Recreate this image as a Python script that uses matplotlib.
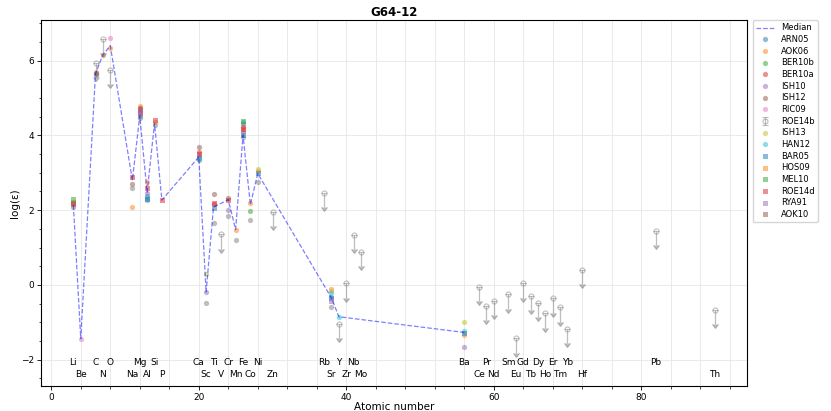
import matplotlib
matplotlib.use('Agg')
import matplotlib.pyplot as plt
from matplotlib.ticker import MultipleLocator

# element labels along the bottom
ELEMENTS = ['Li', 'Be', 'C', 'N', 'O', 'Na', 'Mg', 'Al', 'Si', 'P', 'Ca', 'Sc', 'Ti', 'V',
            'Cr', 'Mn', 'Fe', 'Co', 'Ni', 'Zn', 'Rb', 'Sr', 'Y', 'Zr', 'Nb', 'Mo', 'Ba',
            'Ce', 'Pr', 'Nd', 'Sm', 'Eu', 'Gd', 'Tb', 'Dy', 'Ho', 'Er', 'Tm', 'Yb', 'Hf',
            'Pb', 'Th']
ELEMENT_Z = [3, 4, 6, 7, 8, 11, 12, 13, 14, 15, 20, 21, 22, 23, 24, 25, 26, 27, 28, 30,
             37, 38, 39, 40, 41, 42, 56, 58, 59, 60, 62, 63, 64, 65, 66, 67, 68, 69, 70,
             72, 82, 90]

# median abundance per element
median_z = [3, 4, 6, 7, 8, 11, 12, 13, 14, 15, 20, 21, 22, 24, 25, 26, 27, 28, 38, 39, 56]
median_val = [2.13, -1.44, 5.65, 6.15, 6.40, 2.80, 4.52, 2.48, 4.32, 2.27, 3.42, -0.19,
              2.08, 2.28, 1.48, 4.00, 2.15, 2.98, -0.35, -0.85, -1.27]

# (atomic numbers, log eps) per literature source
arn05 = ([6, 12, 13, 20], [5.65, 4.52, 2.38, 3.40])
aok06 = ([6, 7, 8, 11, 12, 13, 14, 25, 26, 27, 28, 38, 56],
         [5.70, 6.15, 6.33, 2.09, 4.78, 2.74, 4.35, 1.48, 4.13, 2.18, 3.05, -0.11, -1.33])
ber10b = ([27], [1.97])
ber10a = ([12, 20, 22, 26], [4.72, 3.55, 2.16, 4.22])
ish10 = ([12, 13, 20, 21, 24, 26, 38, 56], [4.65, 2.45, 3.45, -0.19, 2.00, 4.08, -0.31, -1.67])
ish12 = ([6, 11, 12, 20, 22, 24, 26], [5.67, 2.71, 4.70, 3.69, 2.43, 2.33, 4.30])
ric09 = ([4, 8], [-1.44, 6.60])
roe14b = ([3, 6, 11, 12, 13, 14, 20, 21, 22, 24, 25, 26, 27, 28, 38],
          [2.08, 5.60, 2.58, 4.46, 2.26, 4.28, 3.33, -0.49, 1.66, 1.84, 1.20, 3.95, 1.73,
           2.76, -0.60])
roe14b_lim = ([6, 7, 8, 23, 30, 37, 39, 40, 41, 42, 58, 59, 60, 62, 63, 64, 65, 66, 67, 68,
               69, 70, 72, 82, 90],
              [5.93, 6.58, 5.75, 1.35, 1.96, 2.46, -1.05, 0.04, 1.33, 0.89, -0.06, -0.56,
               -0.42, -0.25, -1.43, 0.04, -0.30, -0.47, -0.76, -0.36, -0.60, -1.18, 0.40,
               1.45, -0.67])
ish13 = ([21, 28, 38, 56], [0.29, 3.11, -0.17, -1.00])
han12 = ([13, 20, 26, 38, 39, 56], [2.33, 3.37, 4.35, -0.22, -0.85, -1.22])
bar05 = ([13, 22, 26, 28, 38, 56], [2.30, 2.07, 4.02, 2.98, -0.36, -1.28])
hos09 = ([3], [2.21])
mel10 = ([3, 26], [2.30, 4.37])
roe14d = ([3, 11, 12, 13, 14, 15, 20, 22, 24, 26],
          [2.16, 2.89, 4.60, 2.58, 4.40, 2.27, 3.51, 2.20, 2.28, 4.18])
rya91 = ([12, 38], [4.62, -0.42])
aok10 = ([3], [2.18])

circles = [('ARN05', arn05, 'tab:blue'), ('AOK06', aok06, 'tab:orange'),
           ('BER10b', ber10b, 'tab:green'), ('BER10a', ber10a, 'tab:red'),
           ('ISH10', ish10, 'tab:purple'), ('ISH12', ish12, 'tab:brown'),
           ('RIC09', ric09, 'tab:pink')]
circles2 = [('ISH13', ish13, 'tab:olive'), ('HAN12', han12, 'tab:cyan')]
squares = [('BAR05', bar05, 'tab:blue'), ('HOS09', hos09, 'tab:orange'),
           ('MEL10', mel10, 'tab:green'), ('ROE14d', roe14d, 'tab:red'),
           ('RYA91', rya91, 'tab:purple'), ('AOK10', aok10, 'tab:brown')]

plt.rcParams['font.size'] = 6.5
fig = plt.figure(figsize=(8.31, 4.11), dpi=100)
ax = fig.add_axes([0.0497, 0.061, 0.8493, 0.890])

handles = []
h, = ax.plot(median_z, median_val, '--', color='b', alpha=0.5, lw=0.9, label='Median', zorder=5)
handles.append(h)

for name, (z, v), c in circles:
    h, = ax.plot(z, v, 'o', color=c, alpha=0.5, ms=3.8, mew=0, label=name)
    handles.append(h)

ax.plot(roe14b[0], roe14b[1], 'o', color='tab:gray', alpha=0.5, ms=3.8, mew=0)
h = ax.errorbar(roe14b_lim[0], roe14b_lim[1], yerr=0.38, uplims=True, fmt='o', color='tab:gray',
                mfc='none', ms=3.6, mew=0.8, elinewidth=0.9, capsize=2, alpha=0.5,
                label='ROE14b')
handles.append(h)

for name, (z, v), c in circles2:
    h, = ax.plot(z, v, 'o', color=c, alpha=0.5, ms=3.8, mew=0, label=name)
    handles.append(h)
for name, (z, v), c in squares:
    h, = ax.plot(z, v, 's', color=c, alpha=0.5, ms=3.6, mew=0, label=name)
    handles.append(h)

ax.set_ylim(-2.70, 7.08)
for i, (el, z) in enumerate(zip(ELEMENTS, ELEMENT_Z)):
    y = -2.07 if i % 2 == 0 else -2.40
    ax.text(z, y, el, ha='center', va='center', fontsize=6.5)

ax.xaxis.set_major_locator(MultipleLocator(20))
ax.xaxis.set_minor_locator(MultipleLocator(4))
ax.yaxis.set_major_locator(MultipleLocator(2))
ax.yaxis.set_minor_locator(MultipleLocator(0.5))
ax.tick_params(labelsize=6.5, length=3, width=0.6, pad=2)
ax.tick_params(which='minor', length=1.8, width=0.5)
ax.grid(which='both', axis='x', color='#e6e6e6', lw=0.6)
ax.grid(which='major', axis='y', color='#e6e6e6', lw=0.6)
ax.set_axisbelow(True)
for s in ax.spines.values():
    s.set_linewidth(0.8)

ax.set_title('G64-12', fontsize=8.5, fontweight='bold', pad=3)
ax.set_xlabel('Atomic number', fontsize=7.5, labelpad=0)
ax.set_ylabel('log(ε)', fontsize=7.5, labelpad=1)
ax.legend(handles=handles, loc='upper left', bbox_to_anchor=(1.008, 1.0), fontsize=6,
          handlelength=2.2, borderaxespad=0, labelspacing=0.32, frameon=True)

fig.savefig('out.png', dpi=100)
